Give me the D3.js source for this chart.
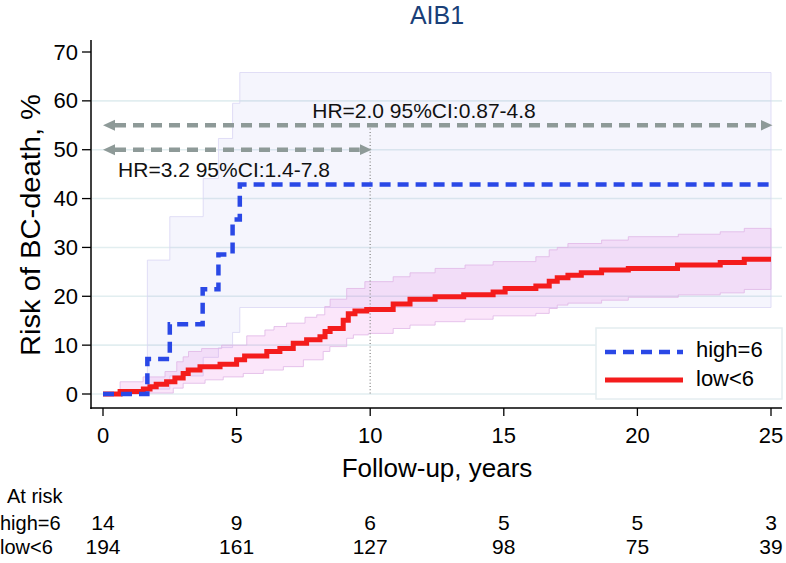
<!DOCTYPE html>
<html><head><meta charset="utf-8">
<script src="https://cdn.jsdelivr.net/npm/d3@7"></script>
<style>
html,body{margin:0;padding:0;background:#fff;}
svg text{font-family:"Liberation Sans",Arial,sans-serif;}
</style></head>
<body>
<svg id="c" width="786" height="563"></svg>
<script>
// ---------- data ----------
const title = "AIB1";
const yTicks = [0,10,20,30,40,50,60,70];
const xTicks = [0,5,10,15,20,25];
const groups = ["high=6","low<6"];
// high group: cumulative risk (%) step function
const highTime = [0,1.66,2.5,3.73,4.32,4.85,5.12];
const highRisk = [0,7.14,14.29,21.43,28.57,35.71,42.86];
const highCITime  = [1.66,2.5,3.75,4.32,4.85,5.12];
const highCIUpper = [27.4,36.3,44.1,52.3,59.5,65.8];
const highCILower = [1.0,3.7,7.5,9.5,12.6,17.7];
// low group
const lowTime = [0,0.64,1.51,1.76,1.99,2.38,2.69,3.0,3.19,3.63,4.38,5.0,5.3,6.13,6.62,7.12,7.62,8.12,8.31,8.5,8.99,9.18,9.43,9.87,10.86,11.49,12.43,13.5,14.6,15.05,16.2,16.7,17.0,17.4,17.9,18.66,19.66,21.5,23.1,24.0];
const lowRisk = [0,0.5,1.0,1.5,2.0,2.5,3.3,4.2,4.9,5.6,6.1,7.0,7.8,8.7,9.3,10.4,11.1,11.7,12.8,13.4,15.1,16.4,17.0,17.3,18.4,19.4,19.9,20.3,20.9,21.6,22.1,23.1,23.8,24.3,24.8,25.4,25.7,26.4,26.9,27.6];
const lowUpTime = [0.64,1.5,2.32,2.76,3.0,3.2,3.69,4.44,5.38,6.06,6.4,6.87,7.56,8.0,8.3,8.5,9.12,9.8,10.86,11.49,12.43,13.55,14.6,16.2,16.7,17.0,17.4,18.66,19.66,21.53,23.1,24.0];
const lowUpper  = [2.5,3.5,4.6,6.6,7.6,8.7,9.3,10.0,11.9,13.1,13.8,14.5,15.7,16.2,17.9,19.4,21.6,23.0,24.0,24.8,25.7,26.4,27.1,28.1,29.5,30.0,30.8,31.5,32.2,32.7,33.2,33.9];
const lowLoTime = [0.64,1.6,2.63,3.0,3.82,4.5,5.25,6.0,6.75,7.5,8.24,8.49,9.12,9.37,9.93,10.86,11.49,12.43,13.55,14.6,16.2,16.7,17.0,17.4,18.66,19.66,21.53,23.1,24.0];
const lowLower  = [0,0.2,1.2,2.2,2.9,3.5,4.2,4.9,5.6,7.0,8.7,9.7,11.4,12.1,12.4,13.4,14.1,14.8,15.3,16.0,16.5,17.5,18.2,18.6,19.2,19.8,20.3,20.7,21.4];
const endTime = 25;
// annotations
const hrLabels = ["HR=2.0 95%CI:0.87-4.8","HR=3.2 95%CI:1.4-7.8"];
const hrLevel = [55,50];
const hrEnd = [25,10];
// at-risk table
const atRiskHigh = [14,9,6,5,5,3];
const atRiskLow  = [194,161,127,98,75,39];

// ---------- scales ----------
const svg = d3.select("#c");
const x = d3.scaleLinear().domain([0,25]).range([103,771]);
const y = d3.scaleLinear().domain([0,70]).range([394,52]);

function stepPts(ts, vs, tEnd){
  const p=[];
  for(let i=0;i<ts.length;i++){
    if(i>0) p.push([x(ts[i]), y(vs[i-1])]);
    p.push([x(ts[i]), y(vs[i])]);
  }
  p.push([x(tEnd), y(vs[vs.length-1])]);
  return p;
}
function bandPts(tu,vu,tl,vl,tEnd){
  const up = stepPts(tu,vu,tEnd);
  const lo = stepPts(tl,vl,tEnd).reverse();
  return up.concat(lo);
}
const line = d3.line();

// gridlines
svg.append("g").selectAll("line").data(yTicks.filter(d=>d<70)).join("line")
  .attr("x1",92).attr("x2",782).attr("y1",d=>y(d)).attr("y2",d=>y(d))
  .attr("stroke","#e2eef0").attr("stroke-width",1.6);

// CI bands
svg.append("path").attr("d", line(bandPts(highCITime,highCIUpper,highCITime,highCILower,endTime))+"Z")
  .attr("fill","#5040e0").attr("fill-opacity",0.055).attr("stroke","#d9d6f4").attr("stroke-width",0.8);
svg.append("path").attr("d", line(bandPts(lowUpTime,lowUpper,lowLoTime,lowLower,endTime))+"Z")
  .attr("fill","#e040d8").attr("fill-opacity",0.13).attr("stroke","#e0b6e6").attr("stroke-width",0.8);

// dotted reference line at 10 years
svg.append("line").attr("x1",x(10)).attr("x2",x(10)).attr("y1",y(hrLevel[0])).attr("y2",y(0))
  .attr("stroke","#9a9a9a").attr("stroke-width",1.5).attr("stroke-dasharray","1,2.3");

// arrows
const defs = svg.append("defs");
defs.append("marker").attr("id","ah").attr("markerUnits","userSpaceOnUse")
  .attr("viewBox","0 -7 14 14").attr("refX",0).attr("refY",0)
  .attr("markerWidth",14).attr("markerHeight",14).attr("orient","auto-start-reverse")
  .append("path").attr("d","M0,-5.5 L12,0 L0,5.5 Z").attr("fill","#8e9a98");
hrLevel.forEach((lv,i)=>{
  svg.append("line").attr("x1",x(0)+12).attr("x2",x(hrEnd[i])-12+1.5)
    .attr("y1",y(lv)).attr("y2",y(lv))
    .attr("stroke","#8e9a98").attr("stroke-width",4.5).attr("stroke-dasharray","11,7")
    .attr("marker-start","url(#ah)").attr("marker-end","url(#ah)");
});
svg.append("text").attr("x",424).attr("y",118).attr("text-anchor","middle")
  .attr("font-size",21).attr("fill","#111").text(hrLabels[0]);
svg.append("text").attr("x",224).attr("y",177).attr("text-anchor","middle")
  .attr("font-size",21).attr("fill","#111").text(hrLabels[1]);

// curves
svg.append("path").attr("d",line(stepPts(lowTime,lowRisk,endTime))).attr("fill","none")
  .attr("stroke","#f41c1c").attr("stroke-width",5);
svg.append("path").attr("d",line(stepPts(highTime,highRisk,endTime))).attr("fill","none")
  .attr("stroke","#2a48e6").attr("stroke-width",4.5).attr("stroke-dasharray","11,7");

// axes
svg.append("line").attr("x1",91).attr("x2",91).attr("y1",40).attr("y2",409).attr("stroke","#000").attr("stroke-width",1.5);
svg.append("line").attr("x1",90.3).attr("x2",782).attr("y1",408).attr("y2",408).attr("stroke","#000").attr("stroke-width",1.5);
const yg = svg.append("g");
yg.selectAll("line").data(yTicks).join("line").attr("x1",82).attr("x2",91)
  .attr("y1",d=>y(d)).attr("y2",d=>y(d)).attr("stroke","#000").attr("stroke-width",1.3);
yg.selectAll("text").data(yTicks).join("text").attr("x",78).attr("y",d=>y(d)+7.5)
  .attr("text-anchor","end").attr("font-size",22).text(d=>d);
const xg = svg.append("g");
xg.selectAll("line").data(xTicks).join("line").attr("x1",d=>x(d)).attr("x2",d=>x(d))
  .attr("y1",408).attr("y2",416).attr("stroke","#000").attr("stroke-width",1.3);
xg.selectAll("text").data(xTicks).join("text").attr("x",d=>x(d)).attr("y",443)
  .attr("text-anchor","middle").attr("font-size",22).text(d=>d);

// titles
svg.append("text").attr("x",437).attr("y",24).attr("text-anchor","middle")
  .attr("font-size",25).attr("fill","#1a3f78").text(title);
svg.append("text").attr("transform","translate(40,225) rotate(-90)").attr("text-anchor","middle")
  .attr("font-size",28).attr("textLength",262).attr("lengthAdjust","spacingAndGlyphs")
  .text("Risk of BC-death, %");
svg.append("text").attr("x",437).attr("y",477).attr("text-anchor","middle")
  .attr("font-size",26).text("Follow-up, years");

// legend
const lg = svg.append("g");
lg.append("rect").attr("x",596).attr("y",328).attr("width",186).attr("height",71)
  .attr("fill","#fff").attr("stroke","#e4edf0").attr("stroke-width",1.5);
lg.append("line").attr("x1",605).attr("x2",683).attr("y1",352).attr("y2",352)
  .attr("stroke","#2a48e6").attr("stroke-width",4.5).attr("stroke-dasharray","11,7");
lg.append("line").attr("x1",605).attr("x2",683).attr("y1",380).attr("y2",380)
  .attr("stroke","#f41c1c").attr("stroke-width",5);
lg.append("text").attr("x",696).attr("y",357).attr("font-size",22).text(groups[0]);
lg.append("text").attr("x",696).attr("y",386).attr("font-size",22).text(groups[1]);

// at-risk table
svg.append("text").attr("x",7).attr("y",503).attr("font-size",20).text("At risk");
svg.append("text").attr("x",0).attr("y",530).attr("font-size",20).text(groups[0]);
svg.append("text").attr("x",0).attr("y",554).attr("font-size",20).text(groups[1]);
svg.append("g").selectAll("text").data(atRiskHigh).join("text")
  .attr("x",(d,i)=>x(xTicks[i])).attr("y",530).attr("text-anchor","middle").attr("font-size",21).text(d=>d);
svg.append("g").selectAll("text").data(atRiskLow).join("text")
  .attr("x",(d,i)=>x(xTicks[i])).attr("y",554).attr("text-anchor","middle").attr("font-size",21).text(d=>d);
</script>
</body></html>
